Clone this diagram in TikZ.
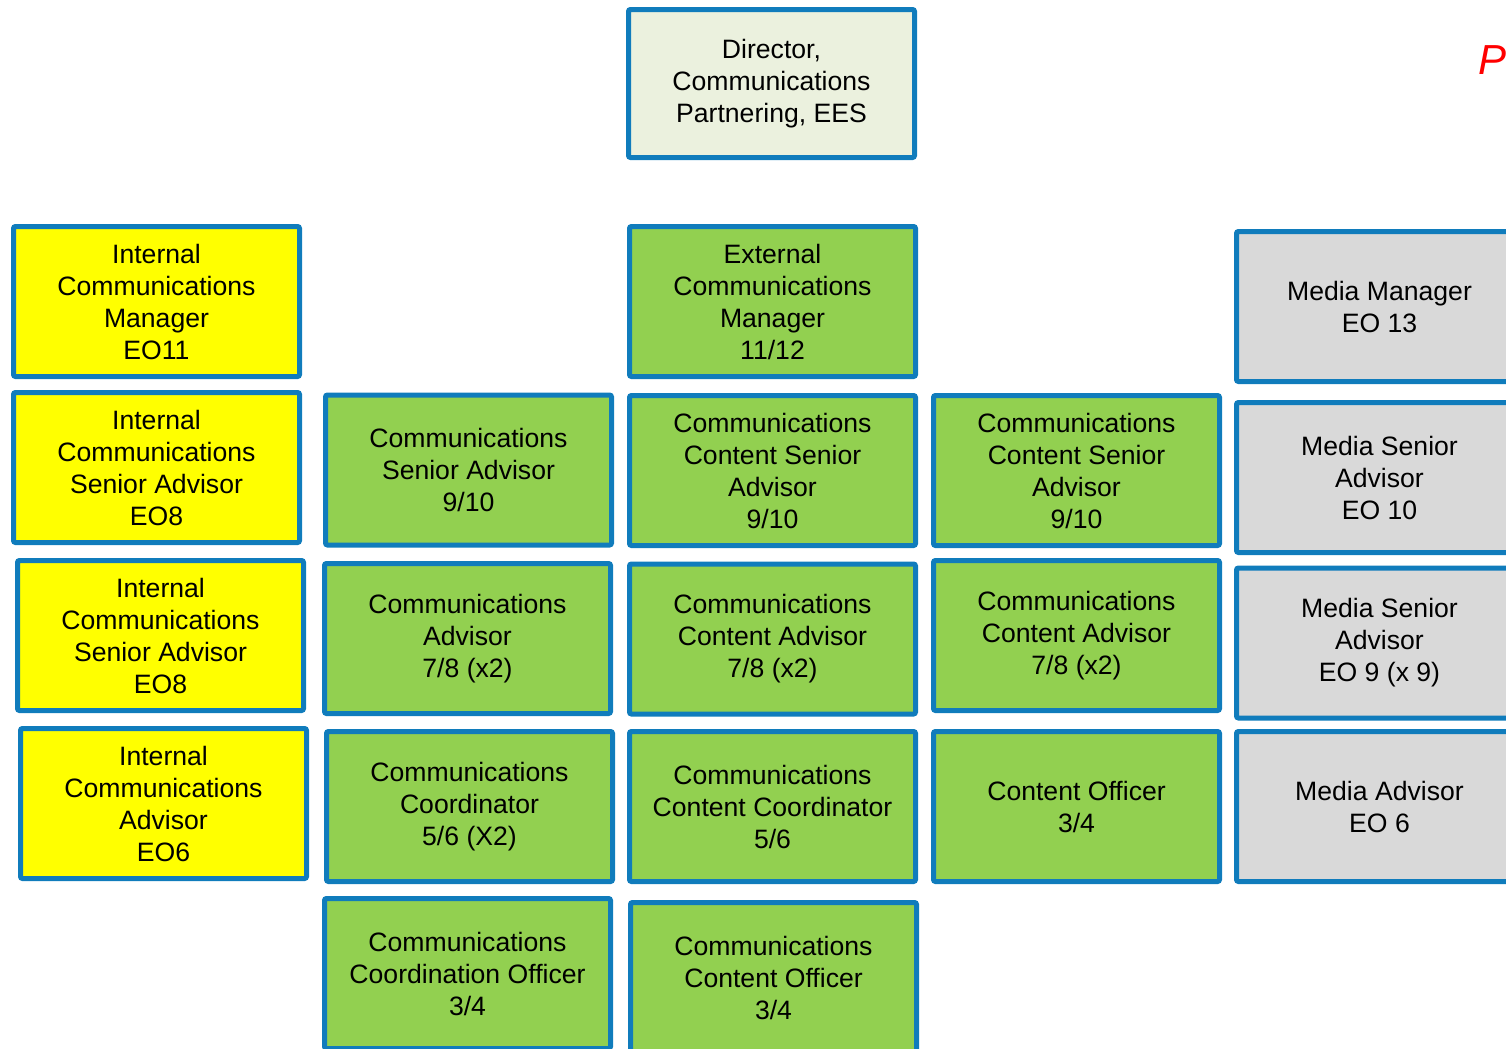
\documentclass[tikz,border=0pt]{standalone}
\usepackage{fontspec}
\setmainfont{Liberation Sans}
\begin{document}
\begin{tikzpicture}[x=0.5pt,y=-0.5pt,
  every node/.style={font=\fontsize{13.3}{16}\selectfont},
  post/.style={draw=postblue, line width=2.5pt, rounded corners=1pt,
    minimum width=143pt, minimum height=75pt, inner sep=0pt, align=center},
  internal/.style={post, fill=postyellow},
  team/.style={post, fill=postgreen},
  media/.style={post, fill=postgrey},
  head/.style={post, fill=postpale, minimum height=74pt}]
\definecolor{postblue}{HTML}{107CBC}
\definecolor{postyellow}{HTML}{FFFF00}
\definecolor{postgreen}{HTML}{92D050}
\definecolor{postgrey}{HTML}{D9D9D9}
\definecolor{postpale}{HTML}{EBF1DE}
\useasboundingbox (0,0) rectangle (1506,1049);
\clip (0,0) rectangle (1506,1049);

% heading, partly outside the page
\node[anchor=base west, text=red, font=\fontsize{21}{24}\selectfont\itshape, inner sep=0pt] (title) at (1478,74) {Pr};

% director
\node[head] (dir) at (771.5,83.5) {Director,\\Communications\\Partnering, EES};

% internal communications column
\node[internal] (icm) at (156.5,301.5) {Internal\\Communications\\Manager\\EO11};
\node[internal] (isa1) at (156.5,467.5) {Internal\\Communications\\Senior Advisor\\EO8};
\node[internal] (isa2) at (160.5,635.5) {Internal\\Communications\\Senior Advisor\\EO8};
\node[internal] (ia) at (163.5,803.5) {Internal\\Communications\\Advisor\\EO6};

% communications column
\node[team] (csa) at (468.5,470) {Communications\\Senior Advisor\\9/10};
\node[team] (ca) at (467.5,638.5) {Communications\\Advisor\\7/8 (x2)};
\node[team] (cc) at (469.5,806.5) {Communications\\Coordinator\\5/6 (X2)};
\node[team] (cco) at (467.5,973.5) {Communications\\Coordination Officer\\3/4};

% external / content column
\node[team] (ecm) at (772.5,301.5) {External\\Communications\\Manager\\11/12};
\node[team] (ccsa1) at (772.5,470.5) {Communications\\Content Senior\\Advisor\\9/10};
\node[team] (cca1) at (772.5,639) {Communications\\Content Advisor\\7/8 (x2)};
\node[team] (ccc) at (772.5,806.5) {Communications\\Content Coordinator\\5/6};
\node[team] (ccoff) at (773.5,977.5) {Communications\\Content Officer\\3/4};

% second content column
\node[team] (ccsa2) at (1076.5,470.5) {Communications\\Content Senior\\Advisor\\9/10};
\node[team] (cca2) at (1076.5,635.5) {Communications\\Content Advisor\\7/8 (x2)};
\node[team] (co) at (1076.5,806.5) {Content Officer\\3/4};

% media column
\node[media] (mm) at (1379.5,306.5) {Media Manager\\EO 13};
\node[media] (msa10) at (1379.5,477.5) {Media Senior\\Advisor\\EO 10};
\node[media] (msa9) at (1379.5,643) {Media Senior\\Advisor\\EO 9 (x 9)};
\node[media] (ma) at (1379.5,806.5) {Media Advisor\\EO 6};
\end{tikzpicture}
\end{document}
